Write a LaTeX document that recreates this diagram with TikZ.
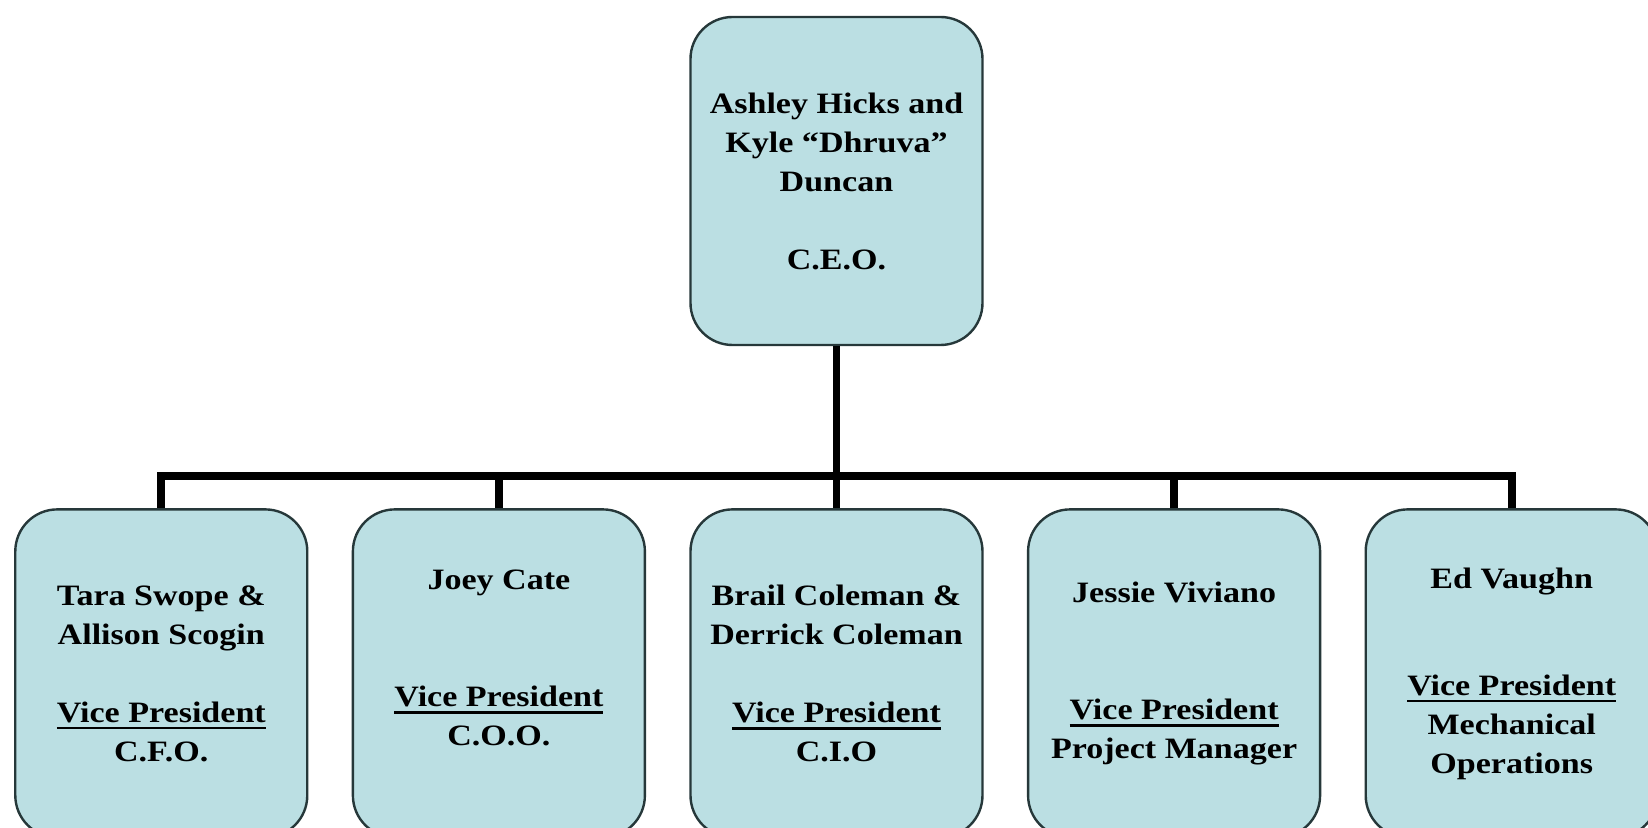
\documentclass[tikz,border=0pt]{standalone}
\usepackage{fontspec}
\setmainfont{Liberation Serif}[FakeStretch=1.15]
\usepackage{tikz}
\usetikzlibrary{positioning}
\definecolor{cfill}{RGB}{187,223,227}
\definecolor{cedge}{RGB}{38,56,58}
% underlined title line
\newcommand{\vpul}[1]{\leavevmode\vtop{\hbox{#1}\kern2.2pt\hrule height 1.3pt}}
\tikzset{
  role/.style ={rectangle, rounded corners=21pt, draw=cedge, line width=1.2pt,
                fill=cfill, minimum width=146pt, minimum height=164pt,
                align=center, inner sep=0pt,
                font=\fontsize{14.8}{19.5}\selectfont\bfseries},
  link/.style ={draw=black, line width=3.8pt}
}

\begin{document}
\begin{tikzpicture}[node distance=81pt and 21.6pt]
\useasboundingbox (-418.25pt,90.5pt) rectangle (405.75pt,-323.5pt);
\node[role] (ceo) at (0,0) {Ashley Hicks and\\ Kyle “Dhruva”\\ Duncan\\[19.5pt]
  C.E.O.};
\node[role, below=of ceo] (cio) {Brail Coleman \&\\ Derrick Coleman\\[19.5pt]
  \vpul{Vice President}\\ C.I.O};
\node[role, left=of cio] (coo) {Joey Cate\\[39pt]
  \vpul{Vice President}\\ C.O.O.\\[-3.5pt]\mbox{}};
\node[role, left=of coo] (cfo) {Tara Swope \&\\ Allison Scogin\\[19.5pt]
  \vpul{Vice President}\\ C.F.O.};
\node[role, right=of cio] (pm) {Jessie Viviano\\[39pt]
  \vpul{Vice President}\\ Project Manager};
\node[role, right=of pm] (mech) {Ed Vaughn\\[34pt]
  \vpul{Vice President}\\ Mechanical\\ Operations};
\foreach \n in {cfo,coo,cio,pm,mech}
  \draw[link] (ceo.south) -- ++(0,-65pt) -| (\n.north);
\end{tikzpicture}
\end{document}
